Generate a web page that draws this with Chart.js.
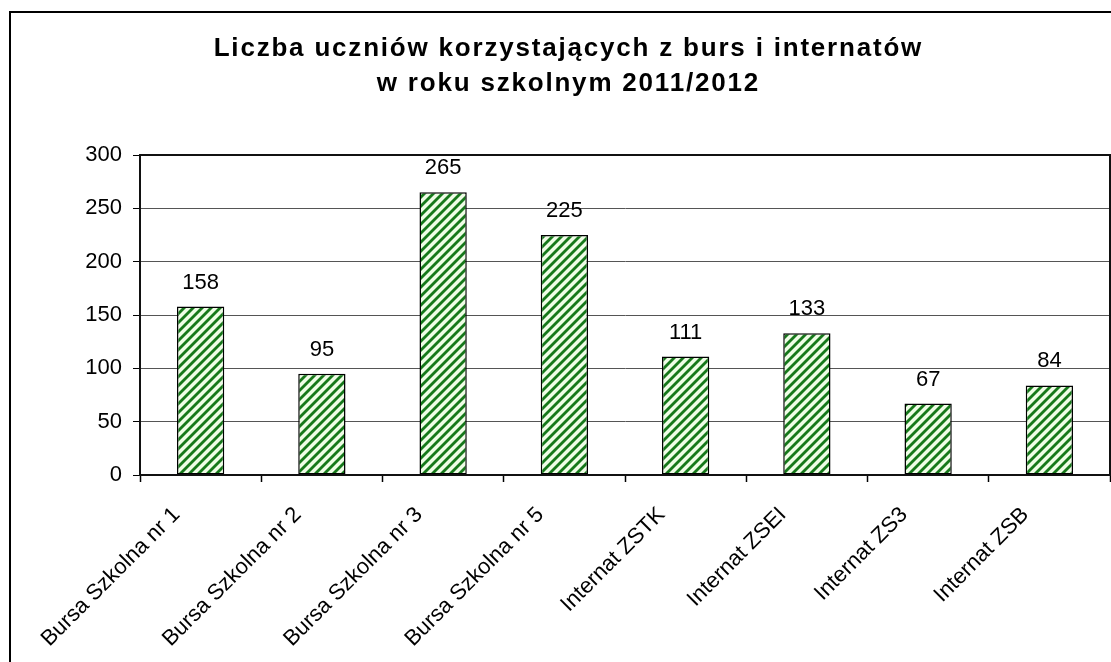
<!DOCTYPE html>
<html>
<head>
<meta charset="utf-8">
<script src="https://cdn.jsdelivr.net/npm/chart.js@4"></script>
<style>
    body { margin: 0; overflow: hidden; background: #fff; }
    #frame { position: absolute; left: 9px; top: 11px; width: 1140px; height: 700px; border: 2px solid #000; }
    #chart { position: absolute; left: 0; top: 0; }
</style>
</head>
<body>
<div id="frame">
    <canvas id="chart" width="1113" height="649"></canvas>
</div>
<script>
// dane
const categories = ['Bursa Szkolna nr 1', 'Bursa Szkolna nr 2', 'Bursa Szkolna nr 3', 'Bursa Szkolna nr 5', 'Internat ZSTK', 'Internat ZSEI', 'Internat ZS3', 'Internat ZSB'];
const students = [158, 95, 265, 225, 111, 133, 67, 84];
const titleLines = ['Liczba uczniów korzystających z burs i internatów', 'w roku szkolnym 2011/2012'];
const yTicks = [0, 50, 100, 150, 200, 250, 300];

const FONT = '"Liberation Sans", Arial, sans-serif';

// ukosne paski na slupkach
function makeStripes() {
    const c = document.createElement('canvas');
    c.width = 9;
    c.height = 9;
    const g = c.getContext('2d');
    g.fillStyle = '#effde6';
    g.fillRect(0, 0, 9, 9);
    g.strokeStyle = '#16781a';
    g.lineWidth = 2.8;
    for (let k = -9; k <= 9; k += 9) {
        g.beginPath();
        g.moveTo(k - 1, 10);
        g.lineTo(k + 10, -1);
        g.stroke();
    }
    return g.createPattern(c, 'repeat');
}

// tytul z rozstrzelonymi literami
const titlePlugin = {
    id: 'spacedTitle',
    afterDraw(chart) {
        const ctx = chart.ctx;
        ctx.save();
        ctx.font = 'bold 26px ' + FONT;
        ctx.fillStyle = '#000';
        ctx.textAlign = 'center';
        ctx.textBaseline = 'middle';
        ctx.letterSpacing = '1.8px';
        ctx.fillText(titleLines[0], chart.width / 2 + 0.9, 36);
        ctx.fillText(titleLines[1], chart.width / 2 + 0.9, 71);
        ctx.restore();
    }
};

// wartosci nad slupkami
const valuePlugin = {
    id: 'values',
    afterDatasetsDraw(chart) {
        const ctx = chart.ctx;
        const meta = chart.getDatasetMeta(0);
        ctx.save();
        ctx.font = '22px ' + FONT;
        ctx.fillStyle = '#000';
        ctx.textAlign = 'center';
        ctx.textBaseline = 'middle';
        meta.data.forEach(function(bar, i) {
            ctx.fillText(String(students[i]), bar.x, bar.y - 24);
        });
        ctx.restore();
    }
};

// ramka obszaru wykresu
const borderPlugin = {
    id: 'plotBorder',
    afterDraw(chart) {
        const a = chart.chartArea;
        const ctx = chart.ctx;
        ctx.save();
        ctx.strokeStyle = '#111';
        ctx.lineWidth = 2;
        ctx.strokeRect(a.left, a.top, a.right - a.left, a.bottom - a.top);
        ctx.restore();
    }
};

const ctx = document.getElementById('chart').getContext('2d');
new Chart(ctx, {
    type: 'bar',
    data: {
        labels: categories,
        datasets: [{
            label: 'Liczba uczniów',
            data: students,
            backgroundColor: makeStripes(),
            borderColor: '#000',
            borderWidth: 1.5,
            borderSkipped: false,
            barPercentage: 0.39,
            categoryPercentage: 1.0
        }]
    },
    options: {
        responsive: false,
        animation: false,
        layout: { padding: { top: 142, left: 0, right: 14, bottom: 0 } },
        plugins: {
            legend: { display: false },
            title: { display: false },
            tooltip: { enabled: false }
        },
        scales: {
            x: {
                offset: true,
                grid: { drawOnChartArea: false, offset: true, tickLength: 7, tickColor: '#000', tickWidth: 1.5 },
                border: { color: '#000', width: 2 },
                ticks: {
                    color: '#000',
                    font: { family: FONT, size: 22 },
                    minRotation: 45,
                    maxRotation: 45,
                    padding: 20,
                    labelOffset: -24
                },
                afterFit(scale) { scale.height = 187; }
            },
            y: {
                min: 0,
                max: 300,
                grid: { color: '#555', lineWidth: 1, tickLength: 7, tickColor: '#000' },
                border: { color: '#000', width: 2 },
                afterBuildTicks(scale) { scale.ticks = yTicks.map(v => ({ value: v })); },
                ticks: {
                    color: '#000',
                    font: { family: FONT, size: 22 },
                    padding: 11
                },
                afterFit(scale) { scale.width = 129; }
            }
        }
    },
    plugins: [titlePlugin, valuePlugin, borderPlugin]
});
</script>
</body>
</html>
